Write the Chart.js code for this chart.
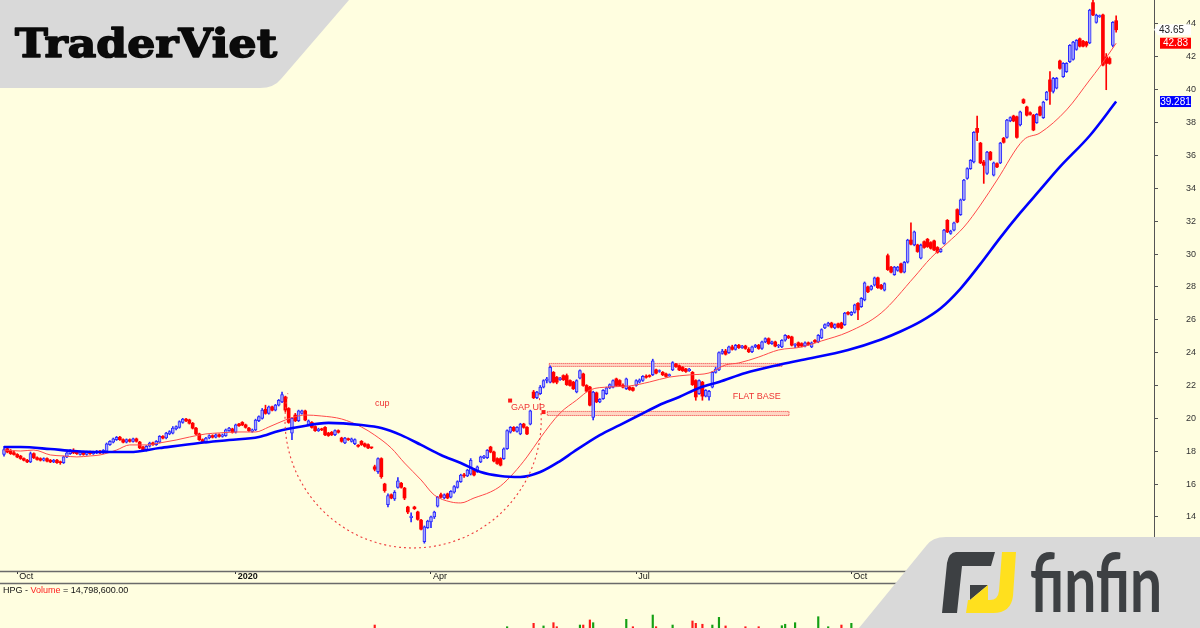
<!DOCTYPE html>
<html><head><meta charset="utf-8">
<script src="https://cdn.jsdelivr.net/npm/chart.js@4.4.0/dist/chart.umd.min.js"></script>
<style>html,body{margin:0;padding:0;background:#FFFEE0;overflow:hidden}canvas{display:block}</style>
</head><body>
<canvas id="c" width="1200" height="628"></canvas>
<script>
// ---------- DATA (HPG daily candles, Sep 2019 - Jan 2021) ----------
const opens = [
17.8,18.15,18.0,17.9,17.8,17.7,17.55,17.45,17.35,17.85,
17.6,17.55,17.45,17.55,17.45,17.35,17.45,17.35,17.3,17.65,
17.85,18.05,17.95,17.8,17.95,17.8,17.95,17.85,17.9,18.0,
17.9,18.0,18.4,18.55,18.7,18.85,18.7,18.55,18.7,18.6,
18.75,18.55,18.25,18.05,18.3,18.5,18.4,18.55,18.9,18.8,
19.05,19.1,19.35,19.45,19.75,19.95,19.9,19.7,19.4,19.05,
18.7,18.55,18.8,18.95,18.85,19.0,18.9,18.95,19.25,19.35,
19.15,19.65,19.75,19.6,19.4,19.2,19.3,19.85,20.0,20.55,
20.3,20.7,20.5,20.8,21.0,21.3,20.6,19.1,20.2,19.85,
20.3,20.45,19.6,19.75,19.5,19.25,19.35,19.45,19.1,19.15,
19.0,19.25,18.8,18.5,18.75,18.6,18.45,18.35,18.6,18.45,
18.4,18.22,17.05,16.75,17.55,16.0,14.75,15.35,15.1,15.8,
16.05,15.75,14.6,13.95,14.6,14.3,13.8,12.5,13.35,13.7,
14.0,14.65,15.35,15.15,15.4,15.2,15.5,15.8,16.15,16.55,
16.5,16.6,16.9,16.75,17.35,17.6,17.6,18.25,17.95,17.55,
17.55,17.55,18.15,19.15,19.45,19.2,19.05,19.65,19.45,19.65,
21.6,21.25,21.5,21.9,22.3,22.2,22.8,22.5,22.35,22.6,
22.6,22.3,22.2,21.6,22.45,22.7,22.0,21.9,20.05,21.55,
21.0,21.2,21.5,21.85,21.9,22.4,22.3,22.0,21.8,21.9,
21.85,22.0,22.2,22.3,22.55,22.6,22.65,22.95,22.85,22.8,
22.7,22.6,22.95,23.3,23.2,23.1,23.0,22.9,22.8,22.3,
21.5,22.2,21.35,21.3,21.9,22.8,22.95,23.95,24.1,24.0,
24.35,24.2,24.45,24.3,24.4,24.2,24.05,24.35,24.45,24.25,
24.65,24.85,24.55,24.65,24.4,24.35,24.75,25.0,24.95,24.45,
24.6,24.55,24.4,24.6,24.35,24.75,24.65,24.9,25.5,25.65,
25.8,25.5,25.75,25.8,25.7,26.45,26.3,26.45,27.0,26.8,
27.2,28.0,27.85,28.1,28.55,28.1,27.8,29.9,29.2,28.75,
29.0,29.4,28.9,29.5,30.85,30.55,30.55,29.75,30.75,30.9,
30.7,30.8,30.4,30.15,30.65,32.05,31.25,31.45,32.7,32.4,
33.3,34.6,35.2,35.6,37.65,36.75,35.6,34.9,36.2,34.8,
35.5,35.55,37.05,37.1,38.1,38.4,38.35,37.85,39.4,38.95,
38.6,38.45,38.0,38.95,38.3,39.4,40.6,39.9,40.1,41.75,
40.8,41.1,41.7,41.85,42.45,43.1,42.95,42.9,42.85,45.3,
44.1,44.45,44.55,42.0,41.9,42.7,44.2];
const highs = [
18.3,18.25,18.1,18.0,17.85,17.75,17.6,17.5,17.95,17.9,
17.65,17.6,17.6,17.6,17.5,17.5,17.5,17.4,17.7,17.95,
18.1,18.15,18.0,18.0,18.0,18.0,18.0,18.0,18.05,18.05,
18.1,18.5,18.65,18.8,18.9,18.9,18.75,18.75,18.75,18.8,
18.8,18.6,18.3,18.35,18.55,18.55,18.65,18.95,18.95,19.15,
19.25,19.5,19.55,19.85,20.0,20.0,19.95,19.75,19.45,19.1,
18.75,18.85,19.0,19.0,19.05,19.05,19.05,19.35,19.45,19.4,
19.65,19.7,19.8,19.65,19.45,19.35,19.95,20.15,20.6,20.8,
20.75,20.75,20.85,21.15,21.6,21.35,20.65,20.05,20.3,20.5,
20.5,20.5,19.9,19.8,19.55,19.4,19.4,19.5,19.15,19.2,
19.3,19.3,18.85,18.85,18.8,18.8,18.75,18.4,18.65,18.5,
18.45,18.25,17.15,17.6,17.6,16.05,15.4,15.4,15.6,16.4,
16.1,15.8,14.65,14.25,14.65,14.35,13.85,13.45,13.8,14.05,
14.35,15.25,15.45,15.4,15.45,15.6,15.9,16.2,16.6,16.65,
16.9,17.55,16.95,17.1,17.7,17.75,18.1,18.3,18.0,17.6,
17.6,18.2,19.3,19.5,19.5,19.5,19.7,19.7,19.5,20.5,
21.7,21.65,22.0,22.35,22.5,23.2,22.85,22.55,22.5,22.65,
22.7,22.35,22.25,22.35,22.95,22.75,22.05,21.95,21.65,21.6,
21.2,21.75,21.9,22.1,22.35,22.45,22.35,22.1,22.45,21.95,
21.9,22.35,22.4,22.6,22.65,22.65,23.6,23.0,22.95,22.85,
22.75,22.7,23.45,23.35,23.25,23.15,23.05,23.05,22.85,22.35,
22.35,22.25,21.75,21.7,22.85,23.1,24.05,24.2,24.2,24.4,
24.45,24.5,24.5,24.45,24.45,24.3,24.4,24.5,24.5,24.7,
24.9,24.9,24.7,24.7,24.5,24.8,25.1,25.05,25.0,24.55,
24.65,24.6,24.65,24.65,24.65,24.8,25.1,25.45,25.75,25.85,
25.85,25.75,25.8,25.85,26.45,26.5,26.5,26.95,27.05,27.35,
28.3,28.05,28.1,28.6,28.6,28.15,28.25,30.0,29.25,29.25,
29.25,29.45,29.55,30.9,31.9,31.4,30.6,30.6,30.8,30.95,
30.75,30.85,30.45,30.35,31.5,32.1,31.45,31.95,32.75,33.35,
34.55,35.25,35.75,37.45,38.4,36.8,35.7,36.25,36.25,35.6,
35.55,36.8,37.1,38.2,38.35,38.45,38.4,38.7,39.45,39.0,
38.65,38.5,38.55,39.0,39.3,39.9,41.1,40.75,40.75,41.8,
41.65,41.65,42.75,42.95,43.05,43.15,43.0,42.95,44.9,45.45,
44.6,44.55,44.6,42.2,42.0,44.15,44.5];
const lows = [
17.7,17.9,17.8,17.75,17.6,17.5,17.4,17.3,17.3,17.55,
17.45,17.4,17.4,17.35,17.3,17.3,17.25,17.2,17.25,17.6,
17.8,17.85,17.8,17.75,17.75,17.75,17.8,17.8,17.85,17.85,
17.85,17.95,18.35,18.5,18.65,18.65,18.5,18.5,18.55,18.55,
18.55,18.15,18.0,18.0,18.25,18.35,18.35,18.5,18.75,18.75,
19.0,19.05,19.3,19.4,19.7,19.8,19.65,19.35,19.0,18.65,
18.5,18.5,18.75,18.8,18.8,18.85,18.85,18.9,19.2,19.1,
19.1,19.5,19.55,19.4,19.2,19.15,19.25,19.8,19.95,20.25,
20.25,20.45,20.45,20.75,20.95,20.4,19.7,18.7,19.8,19.8,
20.25,19.85,19.55,19.4,19.2,19.2,19.25,18.95,18.9,18.95,
18.95,19.1,18.55,18.45,18.65,18.55,18.4,18.25,18.35,18.25,
18.15,18.15,16.8,16.65,16.35,15.5,14.6,15.1,15.0,15.75,
15.75,15.05,14.2,13.7,14.45,13.8,13.2,12.4,13.3,13.35,
13.9,14.6,15.15,15.1,15.1,15.15,15.45,15.75,16.1,16.4,
16.45,16.55,16.5,16.7,17.3,17.55,17.55,17.9,17.35,17.2,
17.1,17.5,18.1,19.1,19.2,19.15,19.0,19.4,19.0,19.6,
21.2,21.2,21.45,21.85,22.15,22.15,22.15,22.1,22.3,22.3,
22.0,21.95,21.75,21.55,22.4,21.95,21.6,20.75,19.9,20.95,
20.95,21.15,21.45,21.8,21.85,21.95,21.95,21.85,21.75,21.7,
21.65,21.95,22.15,22.25,22.45,22.5,22.6,22.7,22.8,22.6,
22.5,22.55,22.9,23.1,22.9,22.85,22.8,22.85,22.0,21.1,
21.45,21.1,21.3,21.1,21.85,22.75,22.9,23.9,23.85,23.95,
24.15,24.15,24.25,24.25,24.2,24.0,24.0,24.3,24.2,24.2,
24.6,24.5,24.5,24.35,24.3,24.3,24.7,24.85,24.4,24.3,
24.35,24.35,24.35,24.45,24.3,24.6,24.6,24.85,25.45,25.6,
25.5,25.45,25.5,25.45,25.65,26.3,26.25,26.4,26.0,26.75,
27.15,27.65,27.8,28.05,27.9,27.85,27.75,29.0,28.85,28.7,
28.95,28.85,28.85,29.45,30.55,30.5,30.1,29.7,30.35,30.4,
30.3,30.2,30.05,30.1,30.6,31.3,31.2,31.4,31.9,32.35,
33.25,34.55,35.15,35.55,36.9,35.5,34.3,34.85,35.7,34.75,
35.25,35.5,36.75,37.05,38.05,38.05,37.05,37.8,39.15,38.4,
38.45,37.5,37.95,38.4,38.25,39.35,39.1,39.8,40.05,41.25,
40.75,41.05,41.65,41.8,42.4,42.6,42.6,42.6,42.8,44.5,
44.05,44.4,41.45,40.0,41.55,42.6,43.5];
const closes = [
18.1,17.95,17.85,17.8,17.65,17.55,17.45,17.35,17.85,17.6,
17.5,17.45,17.55,17.4,17.35,17.45,17.3,17.3,17.65,17.9,
18.05,17.9,17.85,17.95,17.8,17.95,17.85,17.95,18.0,17.9,
18.05,18.45,18.6,18.75,18.85,18.7,18.55,18.7,18.6,18.75,
18.6,18.2,18.05,18.3,18.5,18.4,18.6,18.9,18.8,19.1,
19.2,19.4,19.5,19.8,19.95,19.85,19.7,19.4,19.05,18.7,
18.55,18.8,18.95,18.85,19.0,18.9,19.0,19.3,19.4,19.15,
19.6,19.55,19.6,19.45,19.25,19.3,19.9,20.1,20.5,20.3,
20.7,20.5,20.8,21.1,21.45,20.5,19.75,20.0,19.85,20.45,
20.45,19.9,19.85,19.45,19.25,19.35,19.3,19.0,18.95,19.0,
19.25,19.15,18.6,18.8,18.7,18.75,18.7,18.3,18.4,18.3,
18.2,18.2,16.9,17.55,16.45,15.6,15.3,15.15,15.5,16.2,
15.8,15.15,14.3,14.05,14.5,13.85,13.25,13.4,13.75,14.0,
14.3,15.2,15.2,15.35,15.15,15.55,15.85,16.15,16.55,16.5,
16.85,17.45,16.55,17.05,17.65,17.7,18.05,17.95,17.4,17.25,
17.15,18.15,19.25,19.45,19.25,19.45,19.65,19.45,19.05,20.45,
21.25,21.6,21.9,22.3,22.4,23.1,22.2,22.2,22.45,22.35,
22.05,22.0,21.8,22.3,22.9,22.0,21.65,20.8,21.6,21.0,
21.15,21.7,21.85,22.05,22.3,22.0,22.0,21.9,22.4,21.75,
21.7,22.3,22.35,22.55,22.5,22.55,23.5,22.75,22.9,22.65,
22.55,22.65,23.4,23.15,22.95,22.9,22.85,23.0,22.05,21.3,
22.3,21.35,21.7,21.65,22.8,23.0,24.0,24.1,23.9,24.35,
24.2,24.45,24.3,24.4,24.25,24.05,24.35,24.45,24.25,24.65,
24.85,24.55,24.65,24.4,24.45,24.75,25.05,24.9,24.45,24.5,
24.4,24.4,24.6,24.5,24.6,24.65,25.05,25.4,25.7,25.8,
25.55,25.7,25.55,25.5,26.4,26.35,26.45,26.9,26.6,27.3,
28.25,27.7,28.05,28.55,27.95,27.9,28.2,29.05,28.9,29.2,
29.2,28.9,29.5,30.85,30.6,31.35,30.15,30.55,30.4,30.45,
30.35,30.25,30.1,30.3,31.45,31.35,31.4,31.9,31.95,33.3,
34.5,35.2,35.7,37.4,37.4,35.55,35.4,36.2,35.75,35.55,
35.3,36.75,36.8,38.15,38.3,38.1,37.1,38.65,39.2,38.45,
38.5,37.55,38.5,38.45,39.25,39.85,39.9,40.7,40.7,41.3,
41.6,41.6,42.7,42.9,43.0,42.65,42.65,42.7,44.85,44.55,
44.55,44.5,41.5,41.6,41.6,44.1,43.65];

// moving averages (candle index, value)
const ma20Idx = [0,5,9,14,18,22,26,29,34,38,43,47,52,56,61,65,71,76,80,85,88,91,96,102,108,112,117,121,126,130,135,138,142,147,150,154,158,162,168,173,177,183,189,195,201,207,213,218,222,228,234,241,247,255,265,275,280,285,290,295,300,308,313,321,328,331,336];
const ma20Val = [18.07,18.01,18.07,17.77,17.71,17.65,17.71,17.77,18.07,18.38,18.38,18.5,18.68,18.86,19.05,19.11,19.17,19.17,19.47,19.9,20.1,20.2,20.14,19.96,19.47,18.98,18.19,17.28,16.25,15.33,14.91,14.85,15.15,15.52,15.88,16.67,17.65,18.8,20.32,21.11,21.72,21.91,21.97,22.21,22.51,22.64,22.76,23.25,23.37,23.73,24.16,24.34,24.71,25.25,26.41,28.6,29.76,30.67,31.64,32.98,34.5,36.94,37.37,38.77,40.59,41.38,42.83];
const ma50Idx = [0,5,14,21,29,38,47,59,68,77,83,89,98,108,114,120,126,132,138,144,150,156,162,168,172,180,186,192,198,204,210,216,224,234,241,255,265,271,277,283,289,295,301,307,313,319,328,336];
const ma50Val = [18.25,18.25,18.13,18.01,17.95,17.95,18.19,18.5,18.68,18.86,19.23,19.47,19.72,19.59,19.41,18.98,18.38,17.77,17.28,16.73,16.49,16.43,16.73,17.4,17.95,18.98,19.59,20.2,20.81,21.3,21.85,22.21,22.76,23.25,23.55,24.16,24.8,25.3,25.9,26.7,27.9,29.4,31.0,32.5,33.9,35.3,37.2,39.281];

// volume (million shares) - only the bars tall enough to show in the cropped volume pane
const volIdx = [112,152,160,163,166,167,174,175,177,178,188,190,196,197,202,208,209,211,214,216,218,224,228,235,236,239,246,249,253,256];
const volVal = [26.9,25.6,28.2,26.2,28.7,25.6,26.9,26.9,30.8,28.7,31.3,25.6,34.6,25.6,26.9,30.0,28.2,27.5,26.9,32.8,26.2,25.6,25.6,26.4,27.5,28.7,33.3,25.6,26.9,28.2];

const xTickIndex = [4,70,129,191,256,322];
const xTickLabels = ['Oct','2020','Apr','Jul','Oct','2021'];
const yTicks = [14,16,18,20,22,24,26,28,30,32,34,36,38,40,42,44];
const lastClose = 43.65;
const volumeText = ['HPG - ','Volume',' = 14,798,600.00'];

// annotations in data coordinates (candle index, price)
const cupArc = {i:123.6, p:19.9, ri:38.7, rp:7.79, a0:-12, a1:192};
const bandsDef = [{i0:164.6,i1:235.2,p0:23.13,p1:23.37},{i0:164,i1:237.3,p0:20.14,p1:20.45}];
const notes = [{t:'cup',i:112.1,p:20.75},{t:'GAP UP',i:153.2,p:20.51},{t:'FLAT BASE',i:220.2,p:21.15}];
const marks = [{i:152.9,p:21.08},{i:163,p:20.38}];

// ---------- STYLE ----------
const BG = '#FFFEE0';
const UP_EDGE = '#2b2bff', UP_FILL = '#a6a6fb', DOWN = '#ff0000';
const FONT = '"Liberation Sans", Arial, sans-serif';
const isUp = closes.map((c,i) => c >= opens[i]);

const XMIN = -4/3.31, XMAX = XMIN + 1154/3.31;
const YMAX = 44 + 24/16.43, YMIN = 44 - 547/16.43;
const VMIN = 89/1.3, VMAX = VMIN + 571/1.3;

const wickData = closes.map((c,i) => ({x:i, y:[lows[i], highs[i]]}));
const bodyData = closes.map((c,i) => ({x:i, y:[opens[i], c]}));

const deco = {
  id:'deco',
  beforeDraw(ch){ const c=ch.ctx; c.save(); c.fillStyle=BG; c.fillRect(0,0,ch.width,ch.height); c.restore(); },
  beforeDatasetsDraw(ch){
    const c=ch.ctx, xs=ch.scales.x, ys=ch.scales.y;
    c.save();
    bandsDef.forEach(b=>{
      const x0=xs.getPixelForValue(b.i0), x1=xs.getPixelForValue(b.i1);
      const y0=ys.getPixelForValue(b.p1), y1=ys.getPixelForValue(b.p0);
      c.fillStyle='rgba(255,140,140,0.35)'; c.fillRect(x0,y0,x1-x0,y1-y0);
      c.strokeStyle='#f04a4a'; c.lineWidth=1; c.setLineDash([1,1]);
      c.strokeRect(x0+0.5,y0+0.5,x1-x0-1,y1-y0-1);
    });
    c.restore();
  },
  afterDraw(ch){
    const c=ch.ctx, xs=ch.scales.x, ys=ch.scales.y;
    c.save();
    // cup arc
    const cx=xs.getPixelForValue(cupArc.i), cy=ys.getPixelForValue(cupArc.p);
    const rx=xs.getPixelForValue(cupArc.i+cupArc.ri)-cx, ry=ys.getPixelForValue(cupArc.p-cupArc.rp)-cy;
    c.strokeStyle='#ee3b3b'; c.lineWidth=1.1; c.setLineDash([2,3]);
    c.beginPath(); c.ellipse(cx,cy,rx,ry,0,cupArc.a0*Math.PI/180,cupArc.a1*Math.PI/180); c.stroke();
    c.setLineDash([]);
    // notes
    c.fillStyle='#ee3333'; c.font='9px '+FONT; c.textBaseline='alphabetic'; c.textAlign='left';
    notes.forEach(n=>c.fillText(n.t, xs.getPixelForValue(n.i), ys.getPixelForValue(n.p)));
    c.fillStyle='#ff1a1a';
    marks.forEach(m=>{ c.fillRect(xs.getPixelForValue(m.i)-2, ys.getPixelForValue(m.p)-2, 4, 4); });
    // date box lines
    const top=ch.chartArea.bottom;
    c.strokeStyle='#6a6a6a'; c.lineWidth=1.5;
    c.beginPath(); c.moveTo(0,top+0.5); c.lineTo(1200,top+0.5); c.moveTo(0,top+12.5); c.lineTo(1200,top+12.5); c.stroke();
    // volume pane caption
    c.font='9px '+FONT; c.textBaseline='alphabetic';
    let vx=3; const cols=['#111','#ff2020','#111'];
    volumeText.forEach((t,k)=>{ c.fillStyle=cols[k]; c.fillText(t,vx,593); vx+=c.measureText(t).width; });
    // price tags on right axis
    c.font='10px '+FONT; c.textBaseline='middle';
    let ty=ys.getPixelForValue(lastClose);
    c.fillStyle='#ffffff'; c.beginPath(); c.moveTo(1154,ty); c.lineTo(1158,ty-5.5); c.lineTo(1191,ty-5.5); c.lineTo(1191,ty+5.5); c.lineTo(1158,ty+5.5); c.closePath(); c.fill();
    c.fillStyle='#222'; c.textAlign='left'; c.fillText(String(lastClose),1159,ty+0.5);
    const box=(v,bg)=>{ const y=ys.getPixelForValue(v); c.fillStyle=bg; c.fillRect(1160,y-5.5,31,11); c.fillStyle='#fff'; c.textAlign='center'; c.fillText(String(v),1175.5,y+0.5); };
    box(ma20Val[ma20Val.length-1],'#ff0000');
    box(ma50Val[ma50Val.length-1],'#0000ff');
    c.textAlign='left';
    // TraderViet badge
    c.fillStyle='#d9d9d9';
    c.beginPath(); c.moveTo(0,0); c.lineTo(349,0); c.lineTo(281,79); c.quadraticCurveTo(274,88,260,88); c.lineTo(0,88); c.closePath(); c.fill();
    c.font='bold 40px "DejaVu Serif", serif'; c.textBaseline='alphabetic';
    let w=c.measureText('TraderViet').width;
    c.save(); c.translate(15,57); c.scale(262/w,1); c.fillStyle='#0b0b0b'; c.strokeStyle='#0b0b0b'; c.lineWidth=1.6; c.lineJoin='round';
    c.fillText('TraderViet',0,0); c.strokeText('TraderViet',0,0); c.restore();
    // finfin badge
    c.fillStyle='#d9d9d9';
    c.beginPath(); c.moveTo(859,628); c.lineTo(926,546); c.quadraticCurveTo(932,537,946,537); c.lineTo(1200,537); c.lineTo(1200,628); c.closePath(); c.fill();
    c.fillStyle='#3d4043';
    c.beginPath(); c.moveTo(956,552); c.lineTo(995,552); c.lineTo(991,566); c.lineTo(962,566); c.lineTo(957,613); c.lineTo(942,613); c.lineTo(947,563); c.quadraticCurveTo(949,552,956,552); c.closePath(); c.fill();
    c.beginPath(); c.moveTo(970,585); c.lineTo(988,585); c.lineTo(970,600); c.closePath(); c.fill();
    c.fillStyle='#ffe01e';
    c.beginPath(); c.moveTo(988,585); c.lineTo(988,600); c.lineTo(970,600); c.closePath(); c.fill();
    c.beginPath(); c.moveTo(1002,552); c.lineTo(1016,552); c.lineTo(1013,596); c.quadraticCurveTo(1011,613,993,613); c.lineTo(966,613); c.lineTo(968,600); c.lineTo(990,600); c.quadraticCurveTo(998,600,999,591); c.closePath(); c.fill();
    c.font='bold 80px Lato, "Open Sans", sans-serif';
    w=c.measureText('finfin').width;
    c.save(); c.translate(1030,612); c.scale(132/w,1); c.fillStyle='#3d4043'; c.fillText('finfin',0,0); c.restore();
    c.restore();
  }
};

new Chart(document.getElementById('c'), {
  type:'bar',
  data:{ datasets:[
    { type:'line', label:'MA50', data:ma50Idx.map((x,k)=>({x, y:ma50Val[k]})), borderColor:'#0000ff', borderWidth:2.6, pointRadius:0, cubicInterpolationMode:'monotone', order:0 },
    { type:'line', label:'MA20', data:ma20Idx.map((x,k)=>({x, y:ma20Val[k]})), borderColor:'#ff4a4a', borderWidth:1, pointRadius:0, cubicInterpolationMode:'monotone', order:1 },
    { label:'body', data:bodyData, grouped:false, barThickness:3, minBarLength:1, borderSkipped:false,
      backgroundColor:c=>isUp[c.dataIndex]?UP_FILL:DOWN, borderColor:c=>isUp[c.dataIndex]?UP_EDGE:DOWN,
      borderWidth:c=>isUp[c.dataIndex]?1:0, order:2 },
    { label:'wick', data:wickData, grouped:false, barThickness:1, backgroundColor:c=>isUp[c.dataIndex]?UP_EDGE:DOWN, order:3 },
    { label:'volume', data:volIdx.map((x,k)=>({x, y:[0, volVal[k]]})), yAxisID:'yv', grouped:false, barThickness:1.5, clip:false,
      backgroundColor:c=>isUp[volIdx[c.dataIndex]]?'#14a014':'#ff1a1a', order:4 }
  ]},
  options:{
    responsive:false, animation:false, events:[], devicePixelRatio:1,
    layout:{ padding:{left:0, right:4, top:0, bottom:45} },
    plugins:{ legend:{display:false}, tooltip:{enabled:false} },
    scales:{
      x:{ type:'linear', min:XMIN, max:XMAX, offset:false,
          grid:{drawOnChartArea:false, drawTicks:true, tickLength:3, color:'#333', offset:false},
          border:{display:false},
          ticks:{ autoSkip:false, maxRotation:0, align:'start', labelOffset:2, padding:-3, color:'#111',
                  font:c=>({family:FONT, size:9, weight:(c.tick && c.tick.value===70)?'bold':'normal'}),
                  callback:v=>xTickLabels[xTickIndex.indexOf(v)] },
          afterBuildTicks:s=>{ s.ticks = xTickIndex.map(v=>({value:v})); },
          afterFit:s=>{ s.height=12; s.paddingLeft=0; s.paddingRight=0; } },
      y:{ position:'right', min:YMIN, max:YMAX,
          grid:{drawOnChartArea:false, drawTicks:true, tickLength:4, color:'#555', offset:false},
          border:{display:true, color:'#555', width:1},
          ticks:{ padding:28, crossAlign:'near', color:'#333', font:{family:FONT, size:9} , callback:v=>String(v)},
          afterBuildTicks:s=>{ s.ticks = yTicks.map(v=>({value:v})); },
          afterFit:s=>{ s.width=42; s.paddingTop=0; s.paddingBottom=0; } },
      yv:{ display:false, min:VMIN, max:VMAX }
    }
  },
  plugins:[deco]
});
</script>
</body></html>
